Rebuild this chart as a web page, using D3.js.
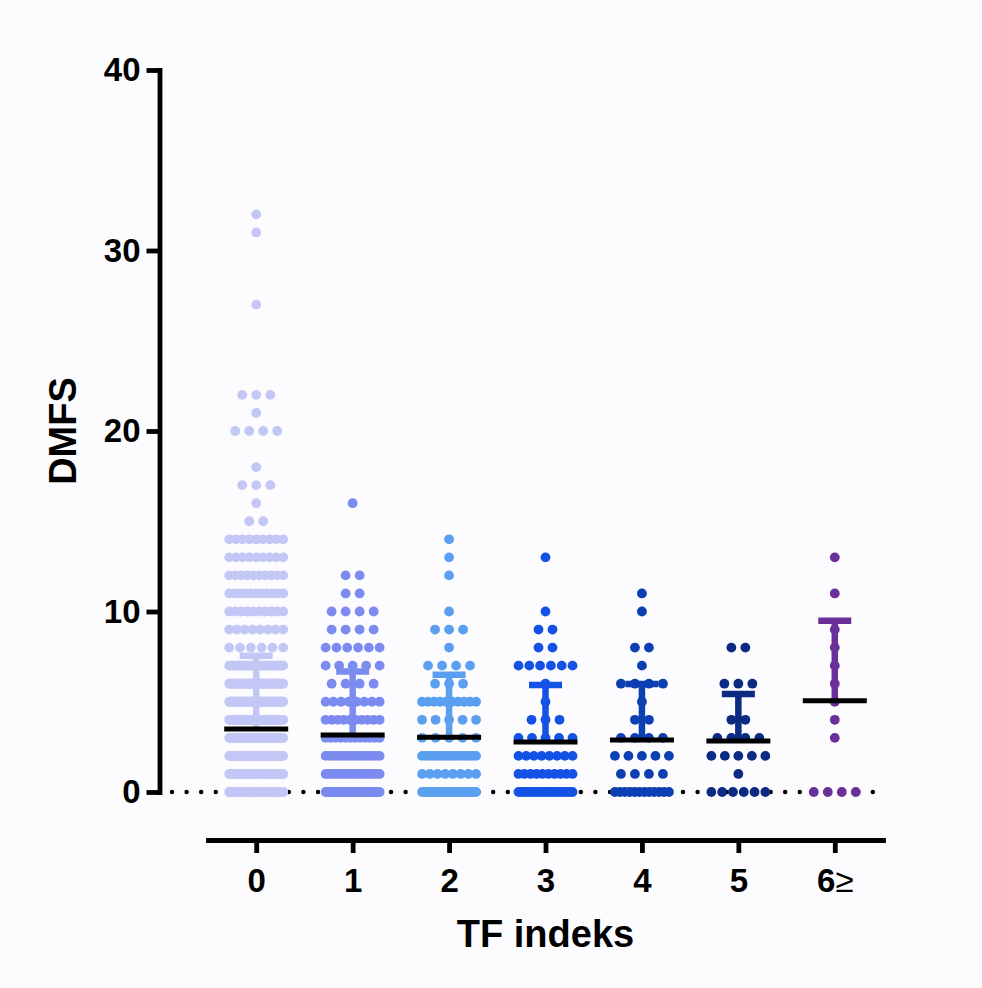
<!DOCTYPE html>
<html>
<head>
<meta charset="utf-8">
<script src="https://cdn.jsdelivr.net/npm/d3@7"></script>
<style>
  body { margin: 0; background: #fcfbfe; }
  svg { display: block; font-family: "Liberation Sans", Arial, sans-serif; }
</style>
</head>
<body>
<svg id="chart" width="982" height="988"></svg>
<script>
// TF index groups (x categories)
var groups = ["0", "1", "2", "3", "4", "5", "6≥"];

// number of children with each DMFS value (index = DMFS score)
var counts0 = [226, 90, 85, 80, 70, 60, 50, 40, 6, 8, 10, 11, 10, 9, 9, 2, 1, 3, 1, 0, 4, 1, 3, 0, 0, 0, 0, 1, 0, 0, 0, 1, 1];
var counts1 = [36, 20, 16, 12, 10, 8, 4, 5, 6, 4, 4, 2, 2, 0, 0, 0, 1];
var counts2 = [25, 8, 16, 5, 5, 10, 3, 4, 1, 3, 1, 0, 1, 1, 1];
var counts3 = [19, 10, 8, 5, 3, 1, 1, 6, 2, 2, 1, 0, 0, 1];
var counts4 = [12, 4, 5, 4, 2, 1, 4, 1, 2, 0, 1, 1];
var counts5 = [6, 1, 5, 4, 2, 0, 3, 0, 2];
var counts6 = [4, 0, 0, 1, 1, 1, 1, 1, 1, 1, 0, 1, 0, 1];

// mean and SD per group (line + upper error bar)
var meanVals = [3.49, 3.16, 3.03, 2.77, 2.88, 2.82, 5.06];
var sdVals = [4.06, 3.51, 3.47, 3.16, 3.10, 2.61, 4.43];

var yTicks = [0, 10, 20, 30, 40];

var colors = ["#c3c7f6", "#7b8bf0", "#5b9ff0", "#1452e6", "#0c3fb2", "#0b2a82", "#6a2f98"];

var allCounts = [counts0, counts1, counts2, counts3, counts4, counts5, counts6];

var svg = d3.select("#chart");

var y = d3.scaleLinear().domain([0, 40]).range([792, 70]);
var x = d3.scalePoint().domain(groups).range([208, 883]).padding(0.5);

// dotted zero line
svg.append("line")
    .attr("x1", 172).attr("x2", 884)
    .attr("y1", y(0)).attr("y2", y(0))
    .attr("stroke", "#000")
    .attr("stroke-width", 4.5)
    .attr("stroke-linecap", "round")
    .attr("stroke-dasharray", "0 14.6");

// build dot positions: each DMFS row spread around the group centre
var dots = [];
allCounts.forEach(function(counts, g) {
  counts.forEach(function(n, v) {
    if (!n) return;
    var step = n > 1 ? Math.min(14, 54 / (n - 1)) : 0;
    for (var i = 0; i < n; i++) {
      dots.push({g: g, v: v, off: (i - (n - 1) / 2) * step});
    }
  });
});

svg.append("g")
    .attr("class", "dots")
  .selectAll("circle")
  .data(dots)
  .enter().append("circle")
    .attr("cx", function(d) { return x(groups[d.g]) + d.off; })
    .attr("cy", function(d) { return y(d.v); })
    .attr("r", 4.9)
    .attr("fill", function(d) { return colors[d.g]; });

// error bars (mean + SD) and mean lines
var bars = svg.append("g").attr("class", "bars")
  .selectAll("g")
  .data(groups)
  .enter().append("g");

bars.append("line")
    .attr("x1", function(d) { return x(d); })
    .attr("x2", function(d) { return x(d); })
    .attr("y1", function(d, i) { return y(meanVals[i]); })
    .attr("y2", function(d, i) { return y(meanVals[i] + sdVals[i]); })
    .attr("stroke", function(d, i) { return colors[i]; })
    .attr("stroke-width", 6.5);

bars.append("line")
    .attr("x1", function(d) { return x(d) - 16.5; })
    .attr("x2", function(d) { return x(d) + 16.5; })
    .attr("y1", function(d, i) { return y(meanVals[i] + sdVals[i]); })
    .attr("y2", function(d, i) { return y(meanVals[i] + sdVals[i]); })
    .attr("stroke", function(d, i) { return colors[i]; })
    .attr("stroke-width", 6.5);

bars.append("line")
    .attr("x1", function(d) { return x(d) - 32; })
    .attr("x2", function(d) { return x(d) + 32; })
    .attr("y1", function(d, i) { return y(meanVals[i]); })
    .attr("y2", function(d, i) { return y(meanVals[i]); })
    .attr("stroke", "#000")
    .attr("stroke-width", 5);

// y axis
var yAxis = svg.append("g")
    .attr("transform", "translate(159.5,0)")
    .call(d3.axisLeft(y).tickValues(yTicks).tickSize(13).tickSizeOuter(0).tickPadding(6));

// x axis (offset below the plot, Prism style)
var xAxis = svg.append("g")
    .attr("transform", "translate(0,840)")
    .call(d3.axisBottom(x).tickSize(13).tickSizeOuter(0).tickPadding(16));

[yAxis, xAxis].forEach(function(ax) {
  ax.select(".domain").attr("stroke", "#000").attr("stroke-width", 4.8).attr("stroke-linecap", "square");
  ax.selectAll(".tick line").attr("stroke", "#000").attr("stroke-width", 4.8);
  ax.selectAll(".tick text")
      .attr("fill", "#000")
      .style("font-family", "'Liberation Sans', Arial, sans-serif")
      .style("font-size", "33px")
      .style("font-weight", "bold");
});

// "6≥" label: the sign is set in regular weight
xAxis.selectAll(".tick text")
  .filter(function(d) { return d === "6≥"; })
    .text(null)
    .call(function(t) {
      t.append("tspan").text("6");
      t.append("tspan").style("font-weight", "normal").text("≥");
    });

// axis titles
svg.append("text")
    .attr("x", 545.5)
    .attr("y", 947)
    .attr("text-anchor", "middle")
    .style("font-size", "38px")
    .style("font-weight", "bold")
    .text("TF indeks");

svg.append("text")
    .attr("transform", "translate(76,431) rotate(-90)")
    .attr("text-anchor", "middle")
    .style("font-size", "38px")
    .style("font-weight", "bold")
    .text("DMFS");
</script>
</body>
</html>
